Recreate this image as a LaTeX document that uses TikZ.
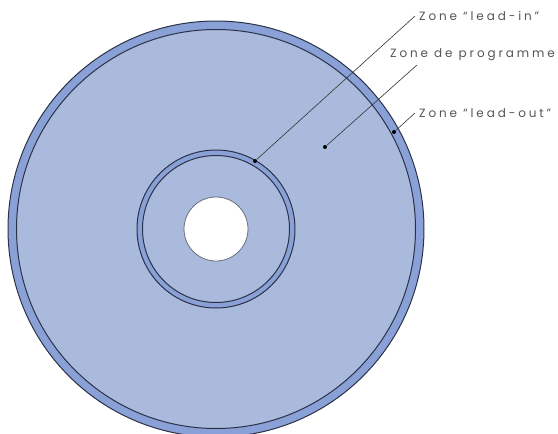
\documentclass[tikz,border=0pt]{standalone}
\usepackage{fontspec}
\newfontfamily\zonefont[LetterSpace=24]{Poppins}
\definecolor{diskblue}{HTML}{AABADC}
\definecolor{bandblue}{HTML}{8AA1D8}
\definecolor{rimline}{HTML}{2B3247}
\definecolor{labelgray}{HTML}{555555}

\begin{document}
\begin{tikzpicture}
[
	x=1pt,
	y=-1pt,
	rim/.style={draw=rimline,line width=1pt},
	dot/.style={circle,fill=black,inner sep=0pt,minimum size=4pt},
	zone/.style={font=\zonefont\fontsize{12}{13}\selectfont,text=labelgray,inner sep=4pt},
	leader/.style={draw=black!80,line width=0.6pt}
]

	\useasboundingbox (0,0) rectangle (558,434);

	% disc
	\coordinate (c) at (216,229);
	\begin{scope}
	  \clip (0,0) rectangle (558,434);
	  \draw[rim,fill=bandblue] (c) circle (208pt);
	  \draw[rim,fill=diskblue] (c) circle (199.5pt);
	\end{scope}

	% lead-in ring and hole
	\draw[rim,fill=bandblue] (c) circle (79pt);
	\draw[rim,fill=diskblue] (c) circle (73.5pt);
	\draw[draw=rimline!70,line width=0.8pt,fill=white] (c) circle (32pt);

	% labels
	\node[zone,anchor=west] (lin) at (415,16) {Zone “lead-in”};
	\node[zone,anchor=west] (lprog) at (386,55) {Zone de programme};
	\node[zone,anchor=west] (lout) at (415,113) {Zone “lead-out”};

	\node[dot] (din) at (255,161) {};
	\node[dot] (dprog) at (325,147) {};
	\node[dot] (dout) at (394,132) {};

	\coordinate (eprog) at (417,65);

	\draw[leader] (din) -- (lin.west);
	\draw[leader] (dprog) -- (eprog);
	\draw[leader] (dout) -- (lout.west);

\end{tikzpicture}
\end{document}
